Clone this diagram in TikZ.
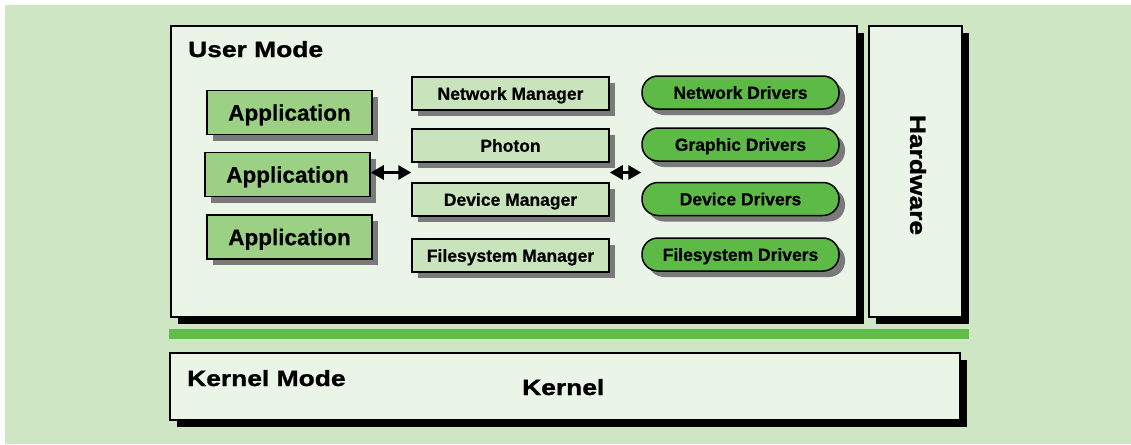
\documentclass[tikz,border=0pt]{standalone}
\usepackage{fontspec}
\setmainfont{Liberation Sans}[BoldFeatures={FakeBold=0.6}]
\newfontfamily\headfont{Liberation Sans}[FakeStretch=1.2,FakeBold=1.2]
\usetikzlibrary{shadows,arrows.meta,calc}

\definecolor{bgclr}{HTML}{CFE6C5}
\definecolor{panelclr}{HTML}{EAF5E8}
\definecolor{appclr}{HTML}{9CD185}
\definecolor{mgrclr}{HTML}{C9E4BD}
\definecolor{drvclr}{HTML}{5EBA47}
\definecolor{barclr}{HTML}{62BC48}
\definecolor{shadeclr}{HTML}{7A7A7A}

\tikzset{
  panel/.style={draw=black,line width=1.5pt,fill=panelclr,inner sep=0pt,
    drop shadow={shadow xshift=7pt,shadow yshift=-7pt,fill=black,opacity=1}},
  appbox/.style={draw=black,line width=1.5pt,fill=appclr,inner sep=0pt,
    minimum width=165pt,minimum height=44pt,text height=16.2pt,text depth=0pt,
    font=\bfseries\fontsize{22.5}{26}\selectfont,
    drop shadow={shadow xshift=6pt,shadow yshift=-6pt,fill=shadeclr,opacity=1}},
  mgrbox/.style={draw=black,line width=1.5pt,fill=mgrclr,inner sep=0pt,
    minimum width=197pt,minimum height=33pt,text height=12.6pt,text depth=0pt,
    font=\bfseries\fontsize{17.5}{20}\selectfont,
    drop shadow={shadow xshift=6pt,shadow yshift=-6pt,fill=shadeclr,opacity=1}},
  drvbox/.style={draw=black,line width=1.5pt,fill=drvclr,inner sep=0pt,
    rounded corners=16pt,minimum width=197pt,minimum height=33pt,
    text height=12.6pt,text depth=0pt,
    font=\bfseries\fontsize{17.5}{20}\selectfont,
    drop shadow={shadow xshift=6pt,shadow yshift=-6pt,fill=shadeclr,opacity=1}},
  headtxt/.style={font=\headfont\bfseries\fontsize{22}{26}\selectfont,inner sep=0pt},
  dblarrow/.style={{Triangle[length=13pt,width=14pt]}-{Triangle[length=13pt,width=14pt]},line width=3pt}
}

\begin{document}
\begin{tikzpicture}[x=1pt,y=-1pt]
\useasboundingbox (0,0) rectangle (1131,444);
\fill[white] (0,0) rectangle (1131,444);
\fill[bgclr] (5,5) rectangle (1131,444);

\node[panel,minimum width=686pt,minimum height=291pt] (user) at (514,171.5) {};
\node[panel,minimum width=93pt,minimum height=291pt] (hw) at (915.5,171.5) {};
\fill[barclr] (169,329) rectangle (969,339);
\node[panel,minimum width=790pt,minimum height=67pt] (kernel) at (565,386.5) {};

\node[headtxt,anchor=base west] (userlbl) at (188,57) {User Mode};
\node[headtxt,rotate=-90] (hwlbl) at (918,175) {Hardware};
\node[headtxt,anchor=base west] (kernlbl) at (187,386) {Kernel Mode};
\node[headtxt,anchor=base west] (kerntxt) at (522,395) {Kernel};

\node[appbox] (app1) at (289.5,112.5) {Application};
\node[appbox] (app2) at (287.5,174.5) {Application};
\node[appbox] (app3) at (289.5,237) {Application};

\node[mgrbox] (nman) at (510.5,93.5) {Network Manager};
\node[mgrbox] (photon) at (510.5,145.5) {Photon};
\node[mgrbox] (dman) at (510.5,199.5) {Device Manager};
\node[mgrbox] (fman) at (510.5,255.5) {Filesystem Manager};

\node[drvbox] (ndrv) at (740.5,92.5) {Network Drivers};
\node[drvbox] (gdrv) at (740.5,144.5) {Graphic Drivers};
\node[drvbox] (ddrv) at (740.5,199) {Device Drivers};
\node[drvbox] (fdrv) at (740.5,254.5) {Filesystem Drivers};

\coordinate (midr) at ($(photon.south east)!0.5!(dman.north east)$);
\draw[dblarrow] (app2.east |- midr) -- (dman.west |- midr);
\draw[dblarrow] (midr) -- (gdrv.west |- midr);
\end{tikzpicture}
\end{document}
